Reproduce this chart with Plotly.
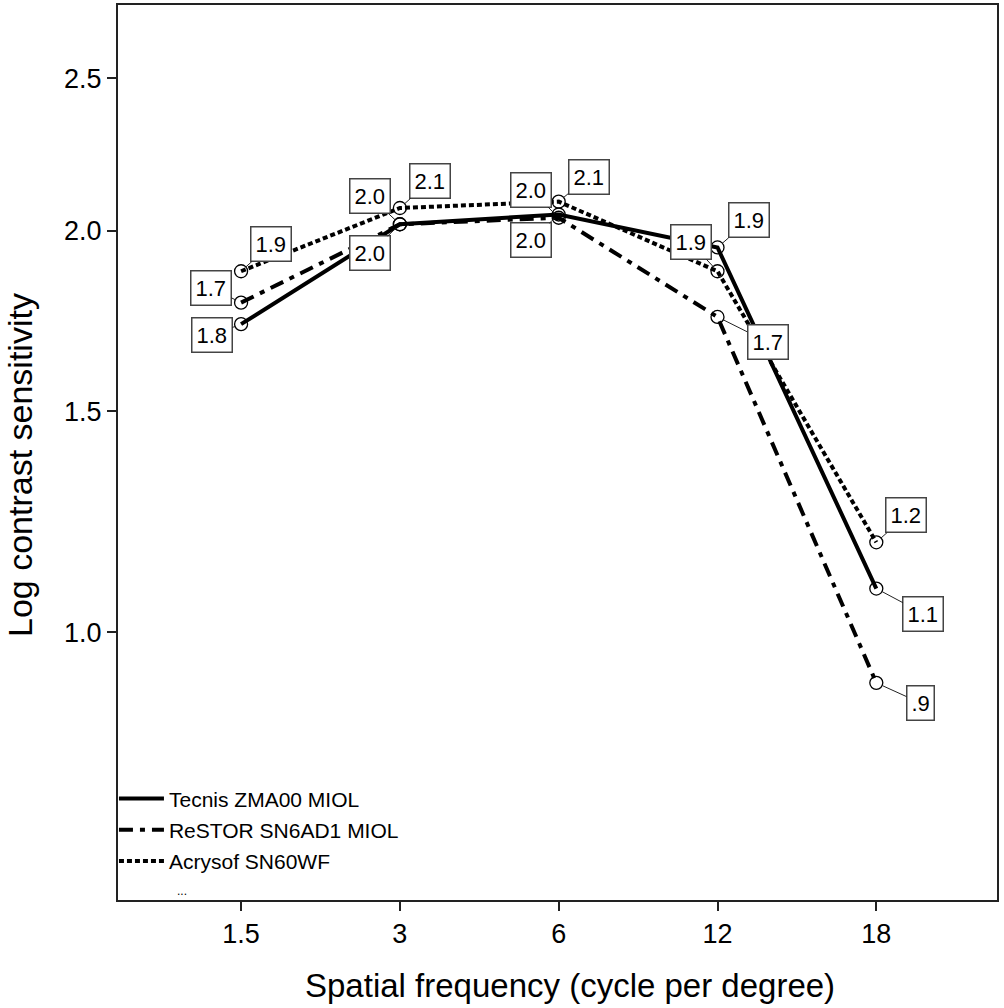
import plotly.graph_objects as go
import math

# ---- data ----
categories = ["1.5", "3", "6", "12", "18"]
tecnis = [1.73, 2.02, 2.05, 1.95, 1.09]
restor = [1.79, 2.02, 2.04, 1.75, 0.90]
acrysof = [1.88, 2.07, 2.09, 1.88, 1.19]
tecnis_labels = ["1.8", "2.0", "2.0", "1.9", "1.1"]
restor_labels = ["1.7", "2.0", "2.0", "1.7", ".9"]
acrysof_labels = ["1.9", "2.1", "2.1", "1.9", "1.2"]
y_tick_values = [1.0, 1.5, 2.0, 2.5]
y_tick_labels = ["1.0", "1.5", "2.0", "2.5"]

FONT = "Liberation Sans, Arial, Helvetica, sans-serif"

def shift(vals):
    # axis is log(1 + value)
    return [v + 1 for v in vals]

series = [
    ("Tecnis ZMA00 MIOL", tecnis, tecnis_labels, "solid",
     [(-29, 11), (-30, 29), (-28, 26), (31, -27), (47, 25)]),
    ("ReSTOR SN6AD1 MIOL", restor, restor_labels, "14px,7px,5px,7px",
     [(-30, -15), (-30, -28), (-28, -28), (50, 25), (44, 20)]),
    ("Acrysof SN60WF", acrysof, acrysof_labels, "5px,3px",
     [(30, -27), (30, -27), (30, -25), (-27, -29), (30, -27)]),
]

fig = go.Figure()
annotations = []
for i, (name, vals, labs, dash, offs) in enumerate(series):
    fig.add_trace(go.Scatter(
        x=categories, y=shift(vals), mode="lines", name=name,
        line=dict(color="black", width=4, dash=dash),
        legendgroup=f"g{i}", hoverinfo="skip"))
for i, (name, vals, labs, dash, offs) in enumerate(series):
    fig.add_trace(go.Scatter(
        x=categories, y=shift(vals), mode="markers", showlegend=False,
        marker=dict(symbol="circle-open", size=13, color="black",
                    line=dict(width=1.3, color="black"))))
    for k, (v, t, (ax, ay)) in enumerate(zip(shift(vals), labs, offs)):
        annotations.append(dict(
            x=k, y=math.log10(v), text=t, showarrow=True, arrowhead=0,
            arrowwidth=1, arrowcolor="#222", ax=ax, ay=ay, standoff=6,
            bgcolor="white", bordercolor="#444", borderwidth=1.5, borderpad=4,
            font=dict(family=FONT, size=22, color="black")))

annotations.append(dict(x=0.065, y=0.0, xref="paper", yref="paper",
                        text="...", showarrow=False, yanchor="bottom",
                        font=dict(family=FONT, size=12, color="black")))
# axis titles
annotations.append(dict(x=0, y=0.486, xref="paper", yref="paper",
                        text="Log contrast sensitivity", textangle=-90,
                        showarrow=False, xanchor="center", yanchor="middle",
                        xshift=-98,
                        font=dict(family=FONT, size=34, color="black")))
annotations.append(dict(x=0.5, y=0, xref="paper", yref="paper",
                        text="Spatial frequency (cycle per degree)",
                        showarrow=False, xanchor="center", yanchor="middle",
                        xshift=12, yshift=-85,
                        font=dict(family=FONT, size=33, color="black")))

fig.update_layout(
    width=1004, height=1008,
    margin=dict(l=118, r=7, t=5, b=108),
    paper_bgcolor="white", plot_bgcolor="white",
    font=dict(family=FONT, color="black"),
    annotations=annotations,
    showlegend=True,
    legend=dict(x=-0.0046, y=0.136, xanchor="left", yanchor="top",
                bgcolor="rgba(0,0,0,0)", traceorder="grouped",
                tracegroupgap=1, itemwidth=45,
                font=dict(family=FONT, size=21, color="black")),
    xaxis=dict(type="category", range=[-0.775, 4.76], automargin=False,
               showline=True, linecolor="#222", linewidth=2, mirror=True,
               ticks="outside", ticklen=9, tickwidth=2, tickcolor="#222",
               showgrid=False, zeroline=False,
               tickfont=dict(family=FONT, size=27)),
    yaxis=dict(type="log", range=[math.log10(1.5257), math.log10(3.769)],
               automargin=False,
               tickvals=shift(y_tick_values), ticktext=y_tick_labels,
               showline=True, linecolor="#222", linewidth=2, mirror=True,
               ticks="outside", ticklen=9, tickwidth=2, tickcolor="#222",
               showgrid=False, zeroline=False,
               tickfont=dict(family=FONT, size=27)),
)

fig.write_html("out.html", config={"displayModeBar": False},
               post_script="document.body.style.margin='0';")
